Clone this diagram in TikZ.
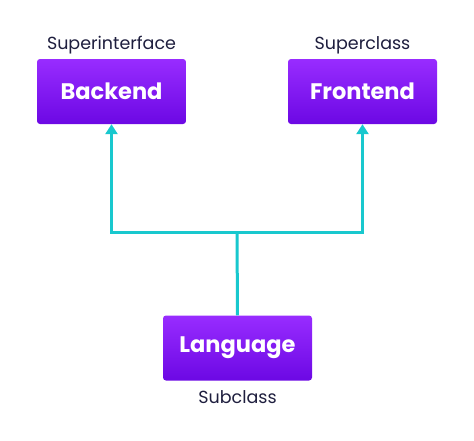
\documentclass[tikz,border=0pt]{standalone}
\usepackage{fontspec}
\setmainfont{Poppins}
\usepackage{xcolor}
\usetikzlibrary{arrows.meta,positioning}
\definecolor{boxtop}{RGB}{152,44,255}
\definecolor{boxbot}{RGB}{108,8,228}
\definecolor{link}{RGB}{24,200,206}
\definecolor{ink}{RGB}{30,30,62}
\begin{document}
\begin{tikzpicture}[x=1pt,y=-1pt,
	cls/.style={rounded corners=3pt, minimum width=149pt, minimum height=65pt, top color=boxtop, bottom color=boxbot, text=white, font=\fontsize{22.5}{26}\selectfont\bfseries},
	role/.style={text=ink, font=\fontsize{17.5}{20}\selectfont},
	link/.style={draw=link, line width=3pt}]
	\useasboundingbox (0,0) rectangle (474,440);
	\node[cls] (back) at (111.5,91.5) {Backend};
	\node[cls] (front) at (362.5,91.5) {Frontend};
	\node[cls] (lang) at (237.5,348) {Language};
	\node[role, above=1pt of back] (backrole) {Superinterface};
	\node[role, above=1pt of front] (frontrole) {Superclass};
	\node[role, below=6pt of lang] (langrole) {Subclass};
	\coordinate (fork) at (237,232);
	\draw[link] (lang.north) -- (fork);
	\draw[link, -{Triangle[width=12pt,length=10pt]}] (fork) -| (back.south);
	\draw[link, -{Triangle[width=12pt,length=10pt]}] (fork) -| (front.south);
\end{tikzpicture}
\end{document}
